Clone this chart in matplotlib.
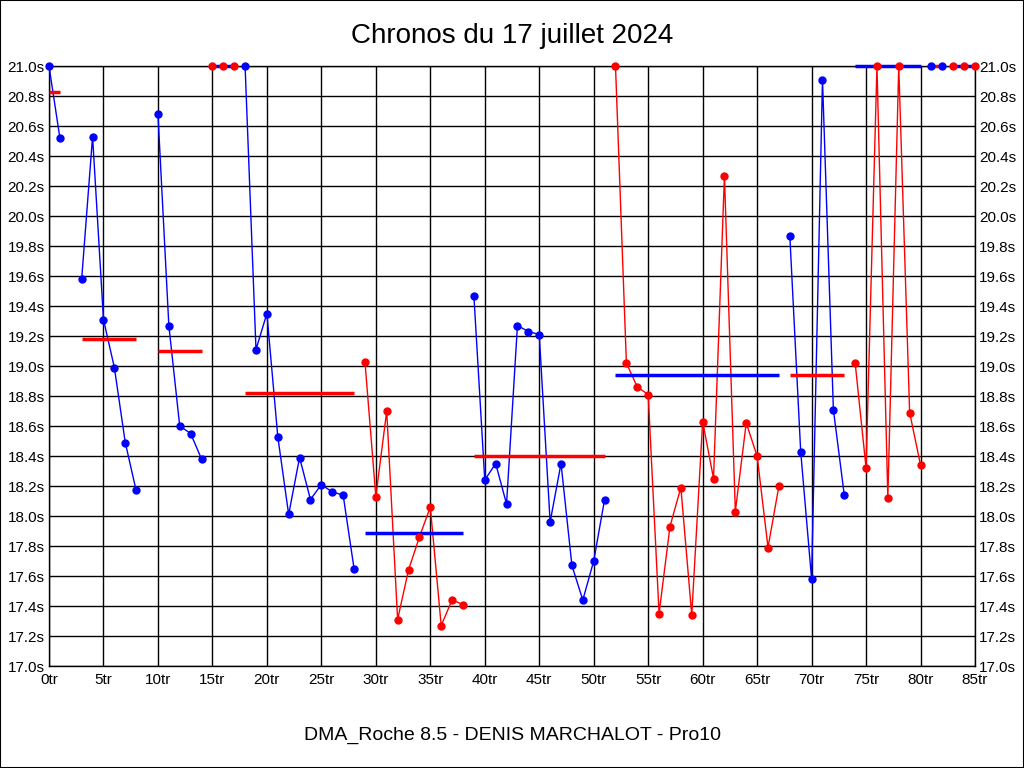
import matplotlib
matplotlib.use("Agg")
import matplotlib.pyplot as plt
from matplotlib.patches import Rectangle
import numpy as np

plt.rcParams['font.family'] = ['Liberation Sans', 'DejaVu Sans']

# ---- data ----
title = "Chronos du 17 juillet 2024"
subtitle = "DMA_Roche 8.5 - DENIS MARCHALOT - Pro10"

# lap times (s), None = no lap recorded
times = [21.0, 20.52, None, 19.58, 20.53, 19.31, 18.99, 18.49, 18.17, None,
         20.68, 19.27, 18.60, 18.55, 18.38, 21.0, 21.0, 21.0, 21.0, 19.11,
         19.35, 18.53, 18.01, 18.39, 18.11, 18.21, 18.16, 18.14, 17.65, 19.03,
         18.13, 18.70, 17.31, 17.64, 17.86, 18.06, 17.27, 17.44, 17.41, 19.47,
         18.24, 18.35, 18.08, 19.27, 19.23, 19.21, 17.96, 18.35, 17.67, 17.44,
         17.70, 18.11, 21.0, 19.02, 18.86, 18.81, 17.35, 17.93, 18.19, 17.34,
         18.63, 18.25, 20.27, 18.03, 18.62, 18.40, 17.79, 18.20, 19.87, 18.43,
         17.58, 20.91, 18.71, 18.14, 19.02, 18.32, 21.0, 18.12, 21.0, 18.69,
         18.34, 21.0, 21.0, 21.0, 21.0, 21.0]
laps = list(range(len(times)))

# stints: first lap, last lap, colour of the stint, average shown
seg_start = [0, 3, 10, 15, 18, 29, 39, 52, 68, 74, 81, 83]
seg_end   = [1, 8, 14, 17, 28, 38, 51, 67, 73, 80, 82, 85]
seg_color = ['blue', 'blue', 'blue', 'red', 'blue', 'red', 'blue', 'red', 'blue', 'red', 'blue', 'red']
seg_avg   = [20.83, 19.18, 19.10, 21.0, 18.82, 17.89, 18.40, 18.94, 18.94, 21.0, 21.0, 21.0]

x_ticks = list(range(0, 86, 5))
y_ticks = [round(17.0 + 0.2 * i, 1) for i in range(21)]

# ---- figure ----
fig = plt.figure(figsize=(10.24, 7.68), dpi=100)
fig.patch.set_facecolor('white')
fig.patches.append(Rectangle((0, 0), 1, 1, transform=fig.transFigure,
                             fill=False, edgecolor='black', linewidth=1.5))

ax = fig.add_axes([49 / 1024, 102 / 768, 926 / 1024, 600 / 768])
ax.set_xlim(0, 85)
ax.set_ylim(17.0, 21.0)

ax.set_xticks(x_ticks)
ax.set_xticklabels([f"{t}tr" for t in x_ticks])
ax.set_yticks(y_ticks)
ax.set_yticklabels([f"{v:.1f}s" for v in y_ticks])
ax.tick_params(axis='both', labelsize=11, length=0, pad=5)
ax.tick_params(axis='y', labelright=True, right=False, pad=3)
ax.grid(True, color='black', linewidth=1.0)
ax.set_axisbelow(True)
for s in ax.spines.values():
    s.set_color('black')
    s.set_linewidth(1.0)

for a, b, c, avg in zip(seg_start, seg_end, seg_color, seg_avg):
    xs = [l for l in laps[a:b + 1] if times[l] is not None]
    ys = [times[l] for l in xs]
    ax.plot(xs, ys, color=c, linewidth=1.0, clip_on=False, zorder=3)
    other = 'red' if c == 'blue' else 'blue'
    ax.plot([a, b], [avg, avg], color=other, linewidth=2.5, solid_capstyle='butt',
            clip_on=False, zorder=3.5)
    ax.plot(xs, ys, linestyle='none', marker='o', markersize=5,
            markerfacecolor=c, markeredgecolor=c, clip_on=False, zorder=4)

fig.text(0.5, 1 - 36 / 768, title, ha='center', va='center', fontsize=20)
fig.text(0.5, 1 - 735 / 768, subtitle, ha='center', va='center', fontsize=14)

fig.savefig("out.png", dpi=100, facecolor='white')
